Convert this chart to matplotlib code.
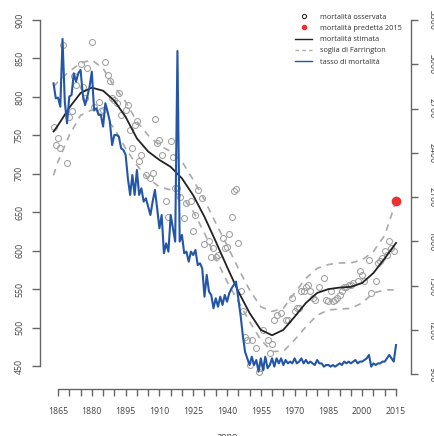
import numpy as np
import matplotlib
matplotlib.use("Agg")
import matplotlib.pyplot as plt
from matplotlib.lines import Line2D

plt.rcParams['font.family'] = ['Open Sans', 'DejaVu Sans']

## Data
# observed mortality (left axis)
obsYears = [1863, 1864, 1865, 1866, 1867, 1869, 1870, 1871, 1872, 1873,
            1875, 1876, 1877, 1878, 1880, 1881, 1883, 1884, 1885, 1886,
            1887, 1888, 1889, 1890, 1891, 1892, 1893, 1895, 1896, 1897,
            1898, 1899, 1900, 1901, 1902, 1904, 1906, 1907, 1908, 1909,
            1910, 1911, 1913, 1914, 1915, 1916, 1917, 1918, 1919, 1921,
            1922, 1924, 1925, 1926, 1927, 1929, 1930, 1932, 1933, 1934,
            1935, 1936, 1938, 1939, 1940, 1941, 1942, 1943, 1944, 1945,
            1946, 1947, 1948, 1949, 1950, 1951, 1953, 1954, 1955, 1956,
            1958, 1959, 1960, 1961, 1962, 1964, 1966, 1967, 1969, 1970,
            1971, 1972, 1973, 1974, 1975, 1976, 1977, 1978, 1979, 1981,
            1983, 1984, 1985, 1986, 1987, 1988, 1989, 1990, 1991, 1992,
            1993, 1994, 1995, 1996, 1998, 1999, 2000, 2001, 2003, 2004,
            2006, 2007, 2008, 2009, 2010, 2011, 2012, 2013, 2014]
obsValues = [761, 738, 747, 733, 868, 714, 774, 781, 827, 816,
             843, 813, 798, 838, 871, 787, 794, 781, 783, 845,
             829, 821, 799, 796, 792, 805, 776, 783, 789, 757,
             733, 763, 768, 716, 724, 698, 694, 701, 771, 740,
             744, 724, 664, 644, 742, 722, 681, 681, 670, 642,
             662, 664, 626, 646, 679, 668, 609, 612, 592, 603,
             592, 594, 616, 603, 605, 622, 644, 677, 680, 610,
             547, 521, 488, 484, 451, 484, 473, 442, 447, 497,
             484, 467, 479, 510, 516, 519, 510, 510, 538, 521,
             525, 525, 547, 547, 553, 555, 547, 538, 536, 553,
             564, 536, 534, 547, 534, 536, 538, 542, 547, 553,
             553, 555, 555, 558, 560, 573, 568, 560, 588, 545,
             560, 584, 586, 590, 599, 594, 613, 603, 599]

# fitted curve and Farrington thresholds (left axis)
fitYears = [1863, 1865, 1870, 1875, 1880, 1885, 1890, 1895, 1900, 1905,
            1910, 1915, 1920, 1925, 1930, 1935, 1940, 1945, 1950, 1955,
            1960, 1965, 1970, 1975, 1980, 1985, 1990, 1995, 2000, 2005,
            2010, 2015]
fitted = [755, 763, 786, 805, 812, 808, 795, 774, 746, 729,
          718, 709, 694, 672, 644, 612, 579, 547, 519, 497,
          490, 497, 514, 532, 545, 550, 552, 553, 558, 571,
          590, 610]
upper = [813, 820, 833, 844, 848, 837, 813, 794, 768, 750,
         737, 729, 716, 692, 666, 636, 607, 577, 549, 527,
         521, 525, 545, 564, 577, 582, 584, 584, 588, 599,
         620, 664]
lower = [698, 716, 750, 776, 783, 776, 759, 733, 711, 694,
         683, 679, 670, 651, 623, 590, 560, 534, 508, 484,
         469, 469, 484, 501, 516, 523, 524, 525, 532, 545,
         549, 549]

predYear = 2015
predValue = 664

# mortality rate, one per year 1863-2015 (right axis)
rateYears = np.arange(1863, 2016)
rateValues = [2871, 2770, 2774, 2713, 3172, 2747, 2600, 2781, 2792, 2939,
              2883, 2939, 2962, 2792, 2724, 2781, 2849, 2950, 2691, 2702,
              2657, 2657, 2578, 2736, 2679, 2612, 2453, 2521, 2521, 2510,
              2431, 2420, 2386, 2228, 2115, 2250, 2115, 2284, 2115, 2160,
              2070, 2092, 2036, 1979, 2070, 2149, 2024, 1889, 1979, 1720,
              1787, 1731, 1979, 1889, 1799, 3090, 1799, 1844, 1720, 1731,
              1663, 1731, 1708, 1742, 1640, 1652, 1618, 1426, 1573, 1460,
              1437, 1347, 1415, 1358, 1426, 1370, 1437, 1392, 1449, 1482,
              1505, 1528, 1415, 1302, 1166, 1053, 1008, 963, 1019, 963,
              997, 918, 1008, 929, 1019, 941, 963, 1008, 952, 1008,
              974, 1008, 963, 997, 974, 986, 974, 1008, 974, 986,
              1008, 974, 997, 974, 986, 974, 963, 997, 974, 974,
              952, 963, 963, 952, 963, 952, 963, 974, 963, 986,
              974, 986, 974, 986, 997, 974, 986, 986, 997, 1008,
              1031, 952, 974, 963, 974, 974, 986, 986, 1008, 1031,
              1008, 986, 1098]

xTicks = list(range(1865, 2016, 5))
xLabels = [str(y) if (y - 1865) % 15 == 0 else "" for y in xTicks]
leftTicks = list(range(450, 901, 50))
rightTicks = list(range(900, 3301, 300))

## Figure
W, H = 435, 436
fig = plt.figure(figsize=(W / 100, H / 100), dpi=100)
ax = fig.add_axes([40 / W, (H - 389) / H, 371 / W, 379 / H])
ax2 = ax.twinx()

axisCol = "#666666"
labCol = "#444444"

ax.plot(obsYears, obsValues, 'o', mfc='none', mec='#a0a0a0', ms=4.3, mew=0.75)
ax.plot(fitYears, upper, '--', color='#aaaaaa', lw=1.2, dashes=(4, 3.5))
ax.plot(fitYears, lower, '--', color='#aaaaaa', lw=1.2, dashes=(4, 3.5))
ax.plot(fitYears, fitted, '-', color='#222222', lw=1.3)
ax.plot([predYear], [predValue], 'o', color='#ee3030', ms=6)

ax2.plot(rateYears, rateValues, '-', color='#2456a8', lw=1.5)

ax.set_xlim(1857.0, 2021.66)
ax.set_ylim(420.1, 913.0)
ax2.set_ylim(800.4, 3367.8)

for a in (ax, ax2):
    a.spines['top'].set_visible(False)
ax.spines['right'].set_visible(False)
ax2.spines['left'].set_visible(False)
ax2.spines['bottom'].set_visible(False)
ax.spines['left'].set_bounds(450, 900)
ax.spines['bottom'].set_bounds(1865, 2015)
ax2.spines['right'].set_bounds(900, 3300)
for s in (ax.spines['left'], ax.spines['bottom'], ax2.spines['right']):
    s.set_color(axisCol)
    s.set_linewidth(1.0)

ax.set_xticks(xTicks)
ax.set_xticklabels(xLabels)
ax.set_yticks(leftTicks)
ax.set_yticklabels([str(v) for v in leftTicks], rotation=90, va='center')
ax2.set_yticks(rightTicks)
ax2.set_yticklabels([str(v) for v in rightTicks], rotation=270, va='center')

ax.tick_params(axis='x', length=5, width=1.0, color=axisCol, labelsize=6.3, labelcolor=labCol, pad=8)
ax.tick_params(axis='y', length=5.5, width=1.0, color=axisCol, labelsize=6.3, labelcolor=labCol, pad=6)
ax2.tick_params(axis='y', length=5, width=1.0, color=axisCol, labelsize=6.3, labelcolor=labCol, pad=7)

fig.text(227 / W, 1 - 432 / H, "anno", ha='center', va='top', fontsize=6.5, color=labCol)

handles = [
    Line2D([], [], ls='none', marker='o', mfc='none', mec='#333333', ms=3, mew=0.8),
    Line2D([], [], ls='none', marker='o', color='#ee3030', ms=3),
    Line2D([], [], color='#222222', lw=1.0),
    Line2D([], [], color='#aaaaaa', lw=1.0, ls='--', dashes=(2.5, 2.5)),
    Line2D([], [], color='#2456a8', lw=1.0),
]
labels = ["mortalità osservata", "mortalità predetta 2015", "mortalità stimata",
          "soglia di Farrington", "tasso di mortalità"]
leg = ax2.legend(handles, labels, loc='upper left', bbox_to_anchor=(291 / W, 1 - 10 / H),
                 bbox_transform=fig.transFigure, frameon=False, fontsize=5.3,
                 handlelength=2.4, handletextpad=1.0, labelspacing=0.55, borderpad=0)
for t in leg.get_texts():
    t.set_color('#333333')

plt.savefig("out.png", dpi=100)
